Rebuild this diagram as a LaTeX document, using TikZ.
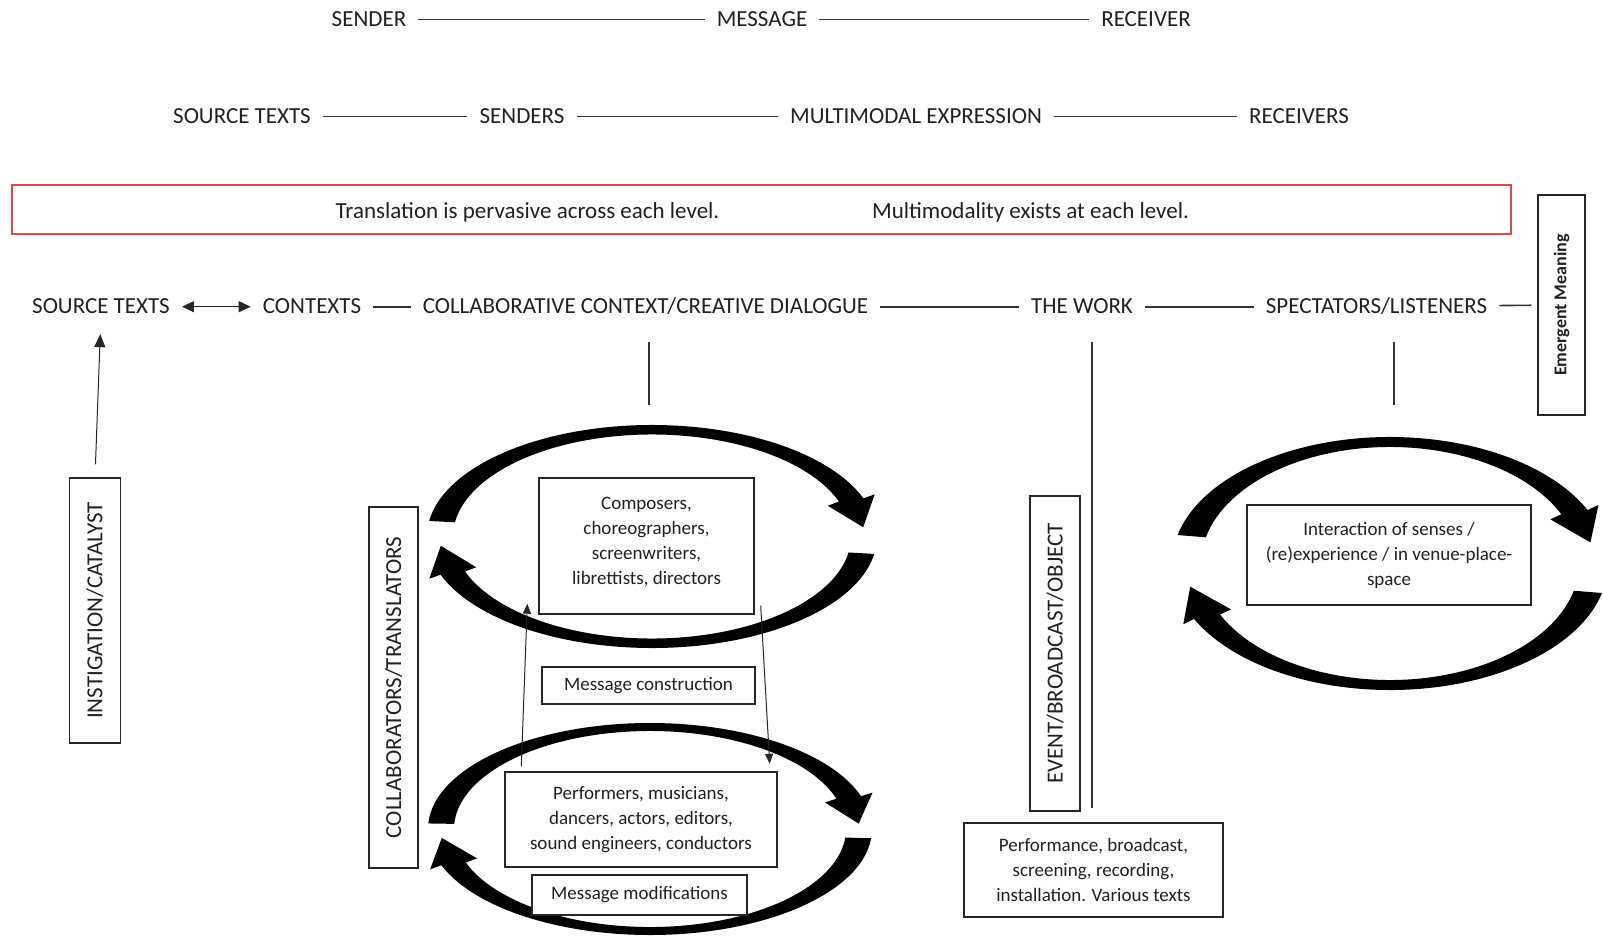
\documentclass[tikz,border=0pt]{standalone}
\usepackage{fontspec}
\setmainfont{Carlito}
\usetikzlibrary{calc,arrows.meta}
\definecolor{boxred}{RGB}{222,72,72}
\definecolor{ink}{RGB}{32,32,32}
\def\cyclearrow(#1)(#2:#3)(#4/#5/#6/#7){\fill ($(#1)+({#4*cos(#2)},{#5*sin(#2)})$) arc[start angle=#2, end angle=#3, x radius=#4, y radius=#5] -- ($(#1)+({(#4+12)*cos(#3)},{(#5+12)*sin(#3)})$) -- ($(#1)+({(#4+#6)/2*cos(#3-15)},{(#5+#7)/2*sin(#3-15)})$) -- ($(#1)+({(#6-12)*cos(#3)},{(#7-12)*sin(#3)})$) -- ($(#1)+({#6*cos(#3)},{#7*sin(#3)})$) arc[start angle=#3, end angle=#2, x radius=#6, y radius=#7] -- cycle;}

\begin{document}
\begin{tikzpicture}[x=1pt, y=1pt,
	lbl/.style={font=\fontsize{23}{27}\selectfont, text=ink, inner xsep=12pt, inner ysep=0pt, text height=14.5pt, text depth=0pt},
	txtbox/.style={draw=black!85, line width=1.4pt, font=\fontsize{19}{25}\selectfont, text=ink, align=center, inner sep=0pt},
	vbox/.style={draw=black!85, line width=1.4pt, rotate=90, font=\fontsize{23}{27}\selectfont, text=ink, inner sep=0pt},
	link/.style={line width=1.6pt, draw=black!80},
	thinarrow/.style={line width=1pt, draw=black!85, -{Triangle[length=10pt,width=8pt]}}]
		%%%%% START %%%%%
		
		\useasboundingbox (0,0) rectangle (1603,-936);
		\clip (0,0) rectangle (1603,-936);
		
		\node[lbl] (sender) at (369,-19.4) {SENDER};
		\node[lbl] (message) at (762,-19.4) {MESSAGE};
		\node[lbl] (receiver) at (1146,-19.4) {RECEIVER};
		\draw[link] (sender) -- (message);
		\draw[link] (message) -- (receiver);
		
		\node[lbl] (sourcetop) at (242,-116.5) {SOURCE TEXTS};
		\node[lbl] (senders) at (522,-116.5) {SENDERS};
		\node[lbl] (multimodal) at (916,-116.5) {MULTIMODAL EXPRESSION};
		\node[lbl] (receivers) at (1299,-116.5) {RECEIVERS};
		\draw[link] (sourcetop) -- (senders);
		\draw[link] (senders) -- (multimodal);
		\draw[link] (multimodal) -- (receivers);
		
		\node[draw=boxred, line width=1.6pt, minimum width=1499, minimum height=49, inner sep=0pt] (pervasive) at (761.6,-209.5) {};
		\node[lbl] (translation) at (527.5,-211.6) {Translation is pervasive across each level.};
		\node[lbl] (multimodality) at (1030.5,-211.6) {Multimodality exists at each level.};
		
		\node[lbl] (source) at (101,-306.7) {SOURCE TEXTS};
		\node[lbl] (contexts) at (312,-306.7) {CONTEXTS};
		\node[lbl] (collab) at (645.5,-306.7) {COLLABORATIVE CONTEXT/CREATIVE DIALOGUE};
		\node[lbl] (work) at (1082,-306.7) {THE WORK};
		\node[lbl] (spectators) at (1376.5,-306.7) {SPECTATORS/LISTENERS};
		\node[vbox, font=\fontsize{18}{22}\selectfont\bfseries, minimum width=220, minimum height=47] (emergent) at (1561.5,-305) {Emergent Meaning};
		
		\draw[line width=1.2pt, draw=black!85, {Triangle[length=12pt,width=11pt]}-{Triangle[length=12pt,width=11pt]}] (source) -- (contexts);
		\draw[link] (contexts) -- (collab);
		\draw[link] (collab) -- (work);
		\draw[link] (work) -- (spectators);
		\draw[link, shorten >=6pt] (spectators) -- (emergent);
		
		\coordinate (collabfoot) at (649,-405);
		\coordinate (workfoot) at (1092,-808);
		\coordinate (spectfoot) at (1394,-405);
		\draw[link, shorten <=28pt] (collab.south -| collabfoot) -- (collabfoot);
		\draw[link, shorten <=28pt] (work.south -| workfoot) -- (workfoot);
		\draw[link, shorten <=28pt] (spectators.south -| spectfoot) -- (spectfoot);
		
		\node[vbox, minimum width=265, minimum height=51] (instigation) at (95,-610.5) {INSTIGATION/CATALYST};
		\draw[thinarrow, -{Triangle[length=13pt,width=11pt]}, shorten <=13pt, shorten >=20pt] (instigation.east) -- (source.south);
		
		\node[vbox, minimum width=361, minimum height=49] (collaborators) at (393.5,-687.5) {COLLABORATORS/TRANSLATORS};
		\node[vbox, minimum width=315, minimum height=50] (event) at (1055,-653.5) {EVENT/BROADCAST/OBJECT};
		
		% cycles
		\coordinate (topcycle) at (652,-536.5);
		\coordinate (lowcycle) at (650,-829);
		\coordinate (sensecycle) at (1390,-563.5);
		\cyclearrow(topcycle)(172:20)(225/111.5/199/102)
		\cyclearrow(topcycle)(351:200)(225/111.5/199/102)
		\cyclearrow(lowcycle)(177:18)(222/106/196/98)
		\cyclearrow(lowcycle)(355:200)(222/106/196/98)
		\cyclearrow(sensecycle)(167:25)(218/126.5/189/116.5)
		\cyclearrow(sensecycle)(346.5:206)(218/126.5/189/116.5)
		
		\node[txtbox, fill=white, minimum width=215, minimum height=136] (composers) at (646.5,-546) {Composers,\\choreographers,\\screenwriters,\\librettists, directors\\[-15pt]};
		\node[txtbox, fill=white, minimum width=213, minimum height=37] (construction) at (648.5,-685.5) {Message construction};
		\node[txtbox, fill=white, minimum width=272, minimum height=95] (performers) at (641,-819.5) {Performers, musicians,\\dancers, actors, editors,\\sound engineers, conductors};
		\node[txtbox, fill=white, minimum width=215, minimum height=40] (modifications) at (639.5,-895) {Message modifications};
		\node[txtbox, fill=white, minimum width=259, minimum height=94] (performance) at (1093.5,-870) {Performance, broadcast,\\screening, recording,\\installation. Various texts};
		\node[txtbox, fill=white, minimum width=284, minimum height=100] (interaction) at (1389,-555) {Interaction of senses /\\(re)experience / in venue-place-\\space};
		
		\draw[thinarrow] ($(performers.north west)+(17,5)$) -- ($(composers.south west)+(-11,11)$);
		\draw[thinarrow] ($(composers.south east)+(6,9)$) -- ($(performers.north east)+(-8,7.5)$);
		
		%%%%% END %%%%%
\end{tikzpicture}
\end{document}
